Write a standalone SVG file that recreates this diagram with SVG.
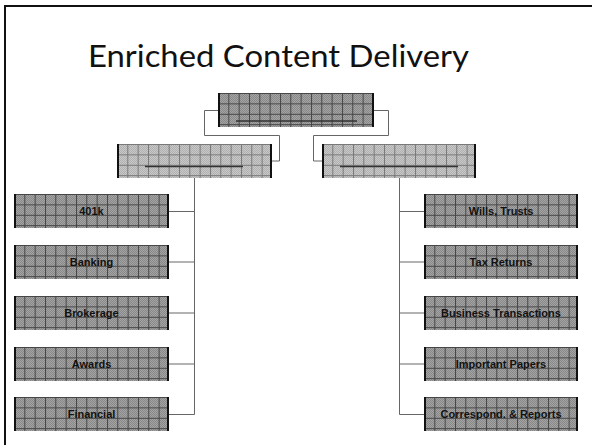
<svg xmlns="http://www.w3.org/2000/svg" width="592" height="445" viewBox="0 0 592 445">
<style>
.title{font-family:Lato,"Open Sans","Liberation Sans",sans-serif;font-size:31px;fill:#111}
.lbl{font-family:"Liberation Sans",Arial,sans-serif;font-size:11px;font-weight:bold;fill:#111;text-anchor:middle}
.conn{fill:none;stroke:#666;stroke-width:1}
.edge{stroke:#111;stroke-width:2}
.inner{stroke:#333;stroke-width:1.5}
</style>
<defs>
<pattern id="ditherD" width="2" height="2" patternUnits="userSpaceOnUse">
<rect width="2" height="2" fill="#888"/><rect width="1" height="1" fill="#a4a4a4"/><rect x="1" y="1" width="1" height="1" fill="#a4a4a4"/>
</pattern>
<pattern id="ditherL" width="2" height="2" patternUnits="userSpaceOnUse">
<rect width="2" height="2" fill="#b0b0b0"/><rect width="1" height="1" fill="#c8c8c8"/><rect x="1" y="1" width="1" height="1" fill="#c8c8c8"/>
</pattern>
<pattern id="grid" width="10.33" height="10.4" patternUnits="userSpaceOnUse">
<path d="M0.5,0 V10.4 M0,0.5 H10.33" fill="none" stroke="#444" stroke-width="1"/>
</pattern>
<pattern id="gridL" width="10.33" height="10.4" patternUnits="userSpaceOnUse">
<path d="M0.5,0 V10.4 M0,0.5 H10.33" fill="none" stroke="#777" stroke-width="1"/>
</pattern>
</defs>
<rect width="592" height="445" fill="#fff"/>
<path d="M5,445 V6 H592" fill="none" stroke="#111" stroke-width="2"/>
<text class="title" x="88" y="67" textLength="381" lengthAdjust="spacingAndGlyphs">Enriched Content Delivery</text>

<g id="connectors">
<path class="conn" d="M218,110.5 H204.5 V135.5 H279.5 V161 H272"/>
<path class="conn" d="M374,110.5 H388.5 V135.5 H313.5 V161 H322"/>
<path class="conn" d="M194.5,178 V414.5"/>
<path class="conn" d="M169,211.5 H194.5 M169,262 H194.5 M169,313 H194.5 M169,364 H194.5 M169,414.5 H194.5"/>
<path class="conn" d="M399.5,178 V414.5"/>
<path class="conn" d="M399.5,211.5 H424 M399.5,262 H424 M399.5,313 H424 M399.5,364 H424 M399.5,414.5 H424"/>
</g>

<g id="top" transform="translate(218,93)">
<rect width="156" height="34" fill="url(#ditherD)"/><rect width="156" height="34" fill="url(#grid)"/>
<line class="edge" x1="1" y1="0" x2="1" y2="34"/><line class="edge" x1="155" y1="0" x2="155" y2="34"/>
<line class="inner" x1="18" y1="28" x2="139" y2="28"/>
</g>
<g id="mid-left" transform="translate(117,144)">
<rect width="155" height="34" fill="url(#ditherL)"/><rect width="155" height="34" fill="url(#gridL)"/>
<line class="edge" x1="1" y1="0" x2="1" y2="34"/><line class="edge" x1="154" y1="0" x2="154" y2="34"/>
<line class="inner" x1="28" y1="22.5" x2="126" y2="22.5"/>
</g>
<g id="mid-right" transform="translate(322,144)">
<rect width="154" height="34" fill="url(#ditherL)"/><rect width="154" height="34" fill="url(#gridL)"/>
<line class="edge" x1="1" y1="0" x2="1" y2="34"/><line class="edge" x1="153" y1="0" x2="153" y2="34"/>
<line class="inner" x1="18" y1="22.5" x2="136" y2="22.5"/>
</g>

<g id="n401k" transform="translate(14,194)">
<rect width="155" height="34" fill="url(#ditherD)"/><rect width="155" height="34" fill="url(#grid)"/>
<line class="edge" x1="1" y1="0" x2="1" y2="34"/><line class="edge" x1="154" y1="0" x2="154" y2="34"/>
<text class="lbl" x="77.5" y="21">401k</text>
</g>
<g id="banking" transform="translate(14,245)">
<rect width="155" height="34" fill="url(#ditherD)"/><rect width="155" height="34" fill="url(#grid)"/>
<line class="edge" x1="1" y1="0" x2="1" y2="34"/><line class="edge" x1="154" y1="0" x2="154" y2="34"/>
<text class="lbl" x="77.5" y="21">Banking</text>
</g>
<g id="brokerage" transform="translate(14,296)">
<rect width="155" height="34" fill="url(#ditherD)"/><rect width="155" height="34" fill="url(#grid)"/>
<line class="edge" x1="1" y1="0" x2="1" y2="34"/><line class="edge" x1="154" y1="0" x2="154" y2="34"/>
<text class="lbl" x="77.5" y="21">Brokerage</text>
</g>
<g id="awards" transform="translate(14,347)">
<rect width="155" height="34" fill="url(#ditherD)"/><rect width="155" height="34" fill="url(#grid)"/>
<line class="edge" x1="1" y1="0" x2="1" y2="34"/><line class="edge" x1="154" y1="0" x2="154" y2="34"/>
<text class="lbl" x="77.5" y="21">Awards</text>
</g>
<g id="financial" transform="translate(14,397)">
<rect width="155" height="34" fill="url(#ditherD)"/><rect width="155" height="34" fill="url(#grid)"/>
<line class="edge" x1="1" y1="0" x2="1" y2="34"/><line class="edge" x1="154" y1="0" x2="154" y2="34"/>
<text class="lbl" x="77.5" y="21">Financial</text>
</g>

<g id="wills" transform="translate(424,194)">
<rect width="154" height="34" fill="url(#ditherD)"/><rect width="154" height="34" fill="url(#grid)"/>
<line class="edge" x1="1" y1="0" x2="1" y2="34"/><line class="edge" x1="153" y1="0" x2="153" y2="34"/>
<text class="lbl" x="77" y="21">Wills, Trusts</text>
</g>
<g id="tax" transform="translate(424,245)">
<rect width="154" height="34" fill="url(#ditherD)"/><rect width="154" height="34" fill="url(#grid)"/>
<line class="edge" x1="1" y1="0" x2="1" y2="34"/><line class="edge" x1="153" y1="0" x2="153" y2="34"/>
<text class="lbl" x="77" y="21">Tax Returns</text>
</g>
<g id="business" transform="translate(424,296)">
<rect width="154" height="34" fill="url(#ditherD)"/><rect width="154" height="34" fill="url(#grid)"/>
<line class="edge" x1="1" y1="0" x2="1" y2="34"/><line class="edge" x1="153" y1="0" x2="153" y2="34"/>
<text class="lbl" x="77" y="21">Business Transactions</text>
</g>
<g id="papers" transform="translate(424,347)">
<rect width="154" height="34" fill="url(#ditherD)"/><rect width="154" height="34" fill="url(#grid)"/>
<line class="edge" x1="1" y1="0" x2="1" y2="34"/><line class="edge" x1="153" y1="0" x2="153" y2="34"/>
<text class="lbl" x="77" y="21">Important Papers</text>
</g>
<g id="correspond" transform="translate(424,397)">
<rect width="154" height="34" fill="url(#ditherD)"/><rect width="154" height="34" fill="url(#grid)"/>
<line class="edge" x1="1" y1="0" x2="1" y2="34"/><line class="edge" x1="153" y1="0" x2="153" y2="34"/>
<text class="lbl" x="77" y="21">Correspond. &amp; Reports</text>
</g>
</svg>
